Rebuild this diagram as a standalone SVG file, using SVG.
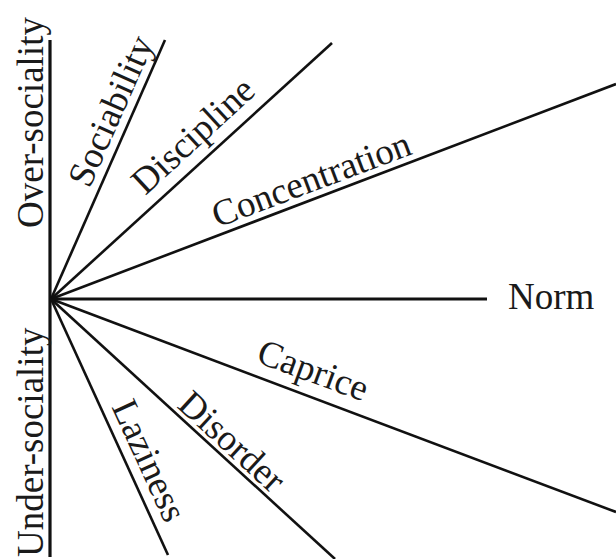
<svg xmlns="http://www.w3.org/2000/svg" width="616" height="559" viewBox="0 0 616 559">
<style>
.ln{stroke:#111;stroke-width:2.6;fill:none;stroke-linecap:butt}
.ax{stroke:#111;stroke-width:3.2;fill:none}
.lb{font-family:"Liberation Serif","Times New Roman",serif;font-size:37px;fill:#1a1a1a}
</style>
<rect width="616" height="559" fill="#fff"/>
<g id="connectors">
<line class="ax" x1="50" y1="40" x2="50" y2="557"/>
<line class="ln" x1="51" y1="299" x2="165" y2="40"/>
<line class="ln" x1="51" y1="299" x2="332" y2="43"/>
<line class="ln" x1="51" y1="299" x2="616" y2="84"/>
<line class="ax" x1="51" y1="299" x2="487" y2="299"/>
<line class="ln" x1="51" y1="299" x2="616" y2="512"/>
<line class="ln" x1="51" y1="299" x2="335" y2="559"/>
<line class="ln" x1="51" y1="299" x2="168" y2="555"/>
</g>
<g id="over-sociality"><text class="lb" transform="translate(43,228) rotate(-90)">Over-sociality</text></g>
<g id="under-sociality"><text class="lb" transform="translate(43,557) rotate(-90)">Under-sociality</text></g>
<g id="sociability"><text class="lb" transform="translate(51,299) rotate(-66.2)" x="116" y="-9">Sociability</text></g>
<g id="discipline"><text class="lb" transform="translate(51,299) rotate(-42.6)" x="139" y="-12">Discipline</text></g>
<g id="concentration"><text class="lb" transform="translate(51,299) rotate(-20.66)" x="181" y="-8">Concentration</text></g>
<g id="norm"><text class="lb" x="508" y="309">Norm</text></g>
<g id="caprice"><text class="lb" transform="translate(51,299) rotate(20.3)" x="213" y="-12">Caprice</text></g>
<g id="disorder"><text class="lb" transform="translate(51,299) rotate(42.5)" x="165" y="-5">Disorder</text></g>
<g id="laziness"><text class="lb" transform="translate(51,299) rotate(65.4)" x="123" y="-10">Laziness</text></g>
</svg>
